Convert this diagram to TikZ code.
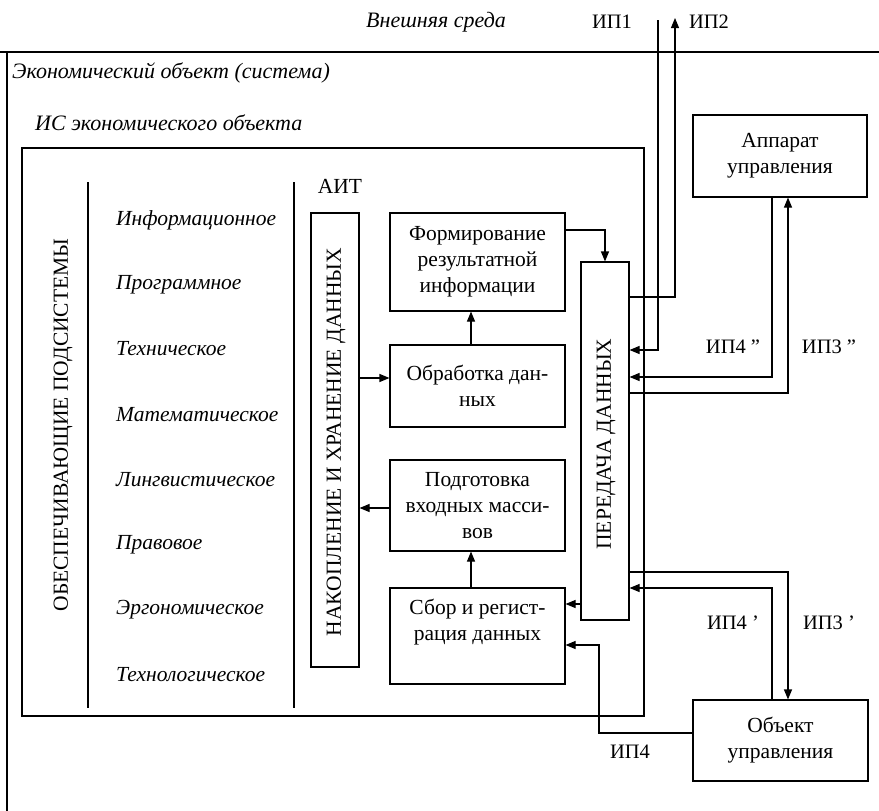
\documentclass[tikz,border=0pt]{standalone}
\usepackage{fontspec}
\setmainfont{Liberation Serif}
\usetikzlibrary{arrows.meta}
\begin{document}
\begin{tikzpicture}[x=1pt,y=-1pt,
  every node/.style={font=\fontsize{21.5}{26}\selectfont, inner sep=0pt},
  box/.style={draw, line width=1.1pt, align=center},
  ln/.style={line width=1.1pt},
  arr/.style={line width=1.1pt, -{Triangle[length=10pt,width=8pt]}},
  it/.style={font=\fontsize{22}{26}\selectfont\itshape},
  sub/.style={anchor=west, font=\fontsize{21.5}{26}\selectfont\itshape},
  caps/.style={rotate=90, font=\fontsize{21.5}{26}\selectfont},
  flow/.style={font=\fontsize{20.5}{24}\selectfont}]
\useasboundingbox (0,0) rectangle (879,811);

% outer frame (economic object)
\draw[ln] (0,52) -- (879,52);
\draw[ln] (7,52) -- (7,811);

% inner frame (IS)
\node[box, minimum width=622pt, minimum height=568pt] (is) at (333,432) {};
\draw[ln] (88,182) -- (88,708);
\draw[ln] (294,182) -- (294,708);

% frame texts
\node[it, anchor=west] (vs) at (366,22) {Внешняя среда};
\node[it, anchor=west] (eo) at (12,73) {Экономический объект (система)};
\node[it, anchor=west] (ise) at (35,123) {ИС экономического объекта};
\node (ait) at (340,186) {АИТ};

% supporting subsystems
\node[caps] (obs) at (63,425) {ОБЕСПЕЧИВАЮЩИЕ ПОДСИСТЕМЫ};
\node[sub] (s1) at (116,220) {Информационное};
\node[sub] (s2) at (116,285) {Программное};
\node[sub] (s3) at (116,349) {Техническое};
\node[sub] (s4) at (116,415) {Математическое};
\node[sub] (s5) at (116,480) {Лингвистическое};
\node[sub] (s6) at (116,545) {Правовое};
\node[sub] (s7) at (116,610) {Эргономическое};
\node[sub] (s8) at (116,675) {Технологическое};

% AIT blocks
\node[box, minimum width=48pt, minimum height=454pt] (nak) at (335,440) {};
\node[caps] (nakt) at (336,442) {НАКОПЛЕНИЕ И ХРАНЕНИЕ ДАННЫХ};
\node[box, minimum width=175pt, minimum height=98pt] (fr) at (477.5,262) {Формирование\\результатной\\информации};
\node[box, minimum width=175pt, minimum height=82pt] (ob) at (477.5,386) {Обработка дан-\\ных};
\node[box, minimum width=175pt, minimum height=91pt] (pod) at (477.5,505.5) {Подготовка\\входных масси-\\вов};
\node[box, minimum width=175pt, minimum height=96pt] (sb) at (477.5,636) {};
\node[align=center] (sbt) at (477.5,622) {Сбор и регист-\\рация данных};
\node[box, minimum width=48pt, minimum height=358pt] (per) at (605,441) {};
\node[caps] (pert) at (606,444) {ПЕРЕДАЧА ДАННЫХ};

% external boxes
\node[box, minimum width=174pt, minimum height=82pt] (ap) at (780,156) {Аппарат\\управления};
\node[box, minimum width=175pt, minimum height=81pt] (oo) at (780.5,740.5) {Объект\\управления};

% internal connectors
\draw[arr] (ob.north -| 471,0) -- (fr.south -| 471,0);
\draw[arr] (sb.north -| 471,0) -- (pod.south -| 471,0);
\draw[arr] (nak.east |- 0,378) -- (ob.west |- 0,378);
\draw[arr] ([yshift=-2.5pt]pod.west) -- ([yshift=-2.5pt]pod.west -| nak.east);
\draw[arr] ([yshift=32pt]fr.east) -| (per.north);
\draw[arr] ([yshift=-163pt]per.west) -- ([yshift=-163pt]per.west -| sb.east);

% information flows
\coordinate (ip1top) at (658,20);
\coordinate (ip2top) at (675,18);
\draw[arr] (ip1top) |- ([yshift=91pt]per.east);
\draw[arr] ([yshift=144pt]per.east) -| (ip2top);
\draw[arr] ([xshift=-8pt]ap.south) |- ([yshift=64pt]per.east);
\draw[arr] ([yshift=48pt]per.east) -| ([xshift=8pt]ap.south);
\draw[arr] ([yshift=-131pt]per.east) -| ([xshift=7.5pt]oo.north);
\draw[arr] ([xshift=-8.5pt]oo.north) |- ([yshift=-147pt]per.east);
\coordinate (k4) at (599,645);
\draw[arr] ([yshift=7.5pt]oo.west) -| (k4) -- (k4 -| sb.east);

% flow labels
\node[flow] (l1) at (612,22) {ИП1};
\node[flow] (l2) at (709,22) {ИП2};
\node[flow] (l4a) at (733,347) {ИП4 "};
\node[flow] (l3a) at (829,347) {ИП3 "};
\node[flow] (l4b) at (733,623) {ИП4 '};
\node[flow] (l3b) at (829,623) {ИП3 '};
\node[flow] (l4) at (630,752) {ИП4};
\end{tikzpicture}
\end{document}
